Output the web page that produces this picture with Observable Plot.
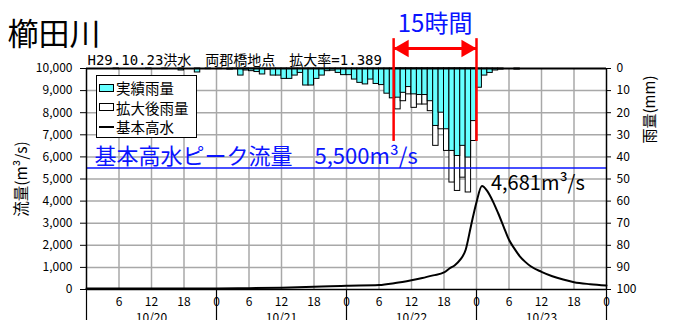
<!DOCTYPE html>
<html><head><meta charset="utf-8">
<script src="https://cdn.jsdelivr.net/npm/d3@7"></script>
<script src="https://cdn.jsdelivr.net/npm/@observablehq/plot@0.6"></script>
<style>
body{margin:0;background:#fff;}
#wrap{position:relative;width:674px;height:320px;overflow:hidden;font-family:"Noto Sans CJK JP","Noto Sans",sans-serif;}
#legend{position:absolute;left:96px;top:75px;width:101px;height:63px;box-sizing:border-box;border:1px solid #000;background:#fff;padding-top:2px;}
.row{display:flex;align-items:center;height:19.5px;padding-left:2px;font-size:14.5px;color:#000;}
.sw{width:15px;height:8px;border:1px solid #000;margin-right:2px;box-sizing:border-box;}
.ln{width:15px;height:2px;background:#000;margin-right:2px;}
</style></head><body><div id="wrap"></div>
<script>
// ---- data ----
const title = "櫛田川";
const subtitle = "H29.10.23洪水　両郡橋地点　拡大率=1.389";
const dayLabels = ["10/20", "10/21", "10/22", "10/23"];
const dayCenters = [12, 36, 60, 84];
const dayBounds = [0, 24, 48, 72, 96];
const hourTicks = [6, 12, 18, 24, 30, 36, 42, 48, 54, 60, 66, 72, 78, 84, 90, 96];
const hourGrid = [6, 12, 18, 24, 30, 36, 42, 48, 54, 60, 66, 72, 78, 84, 90];
const flowTicks = [0, 1000, 2000, 3000, 4000, 5000, 6000, 7000, 8000, 9000, 10000];
const rainTicks = [0, 10, 20, 30, 40, 50, 60, 70, 80, 90, 100];
const legendLabels = ["実績雨量", "拡大後雨量", "基本高水"];

// hourly actual rainfall (mm), 10/20 0:00 .. 10/23 23:00
const rainActual = [
  0, 0, 0, 0, 0, 0.3, 0, 0, 0, 0, 0, 0.3, 0, 0, 0.3, 0, 0, 0.9, 0, 0, 1.8, 0, 0.3, 0,
  0.3, 0, 0.5, 0.3, 3.2, 0.9, 1.2, 1.6, 2.7, 0.5, 3.2, 3.2, 4.7, 4.7, 3.2, 2.0, 7.7, 7.7, 4.7, 3.2, 1.2, 1.0, 2.0, 3.0,
  3.0, 5.0, 6.5, 7.2, 5.0, 7.0, 7.5, 11.4, 13.5, 13.2, 11.0, 8.4, 11.7, 12.0, 12.0, 14.8, 26.0, 20.0, 27.5, 37.3, 39.6, 35.0, 40.3, 23.8,
  8.7, 3.2, 2.0, 0.9, 0.5, 0, 0, 0.5, 0, 0, 0, 0, 0, 0, 0, 0, 0, 0, 0, 0, 0, 0, 0, 0
];
// expanded rainfall in the 15-hour window
const expandedHours = [57, 58, 59, 60, 61, 62, 63, 64, 65, 66, 67, 68, 69, 70, 71];
const rainExpanded = [18.5, 14.8, 11.7, 17.8, 16.3, 16.3, 19.3, 35.0, 27.5, 37.3, 51.6, 55.4, 49.4, 56.1, 32.8];

// design flood hydrograph (m3/s)
const flowHours = [0, 12, 24, 30, 36, 42, 45, 48, 54, 57, 60, 62, 64, 66, 67, 68, 69, 70, 71, 72, 73, 74, 75, 76, 77, 78, 79, 80, 81, 82, 84, 86, 88, 90, 93, 96];
const flowValues = [50, 50, 50, 60, 80, 120, 150, 170, 200, 290, 420, 520, 640, 770, 950, 1100, 1350, 1800, 2900, 3950, 4681, 4450, 4000, 3450, 2850, 2250, 1850, 1500, 1250, 1050, 800, 600, 450, 330, 240, 180];

const designPeak = 5500;
const peakHour = 73, peakFlow = 4681;
const windowStart = 56.7, windowEnd = 72;
const windowLabel = "15時間";
const redLineBottom = 6700, redLineTop = 11350, arrowLevel = 10900, windowLabelLevel = 11630;

// ---- build ----
const RAIN_BASE = 10000, RAIN_UNIT = 100; // right axis: 0 mm at top, 100 mm at bottom
const toY = mm => RAIN_BASE - mm * RAIN_UNIT;

const actual = rainActual.map((mm, h) => ({h, mm})).filter(d => d.mm > 0);
const expanded = expandedHours.map((h, i) => ({h, mm: rainExpanded[i]}));
const flow = flowHours.map((h, i) => ({h, v: flowValues[i]}));

const blue = "#0a14ff", red = "#ff0000", cyan = "#66ffff", grid = "#a8a8a8";
const jp = '"Noto Sans CJK JP", sans-serif';

const plot = Plot.plot({
  width: 674, height: 320,
  marginTop: 68, marginRight: 68, marginBottom: 31, marginLeft: 86,
  x: {domain: [0, 96]},
  y: {domain: [0, 10000]},
  style: {fontFamily: jp, fontSize: "12px", color: "#000", background: "#fff", overflow: "visible"},
  marks: [
    Plot.gridY(flowTicks.slice(1, -1), {stroke: grid, strokeOpacity: 1, strokeWidth: 1.5}),
    Plot.gridX(hourGrid, {stroke: grid, strokeOpacity: 1, strokeWidth: 1.5}),
    Plot.rect(expanded, {x1: d => d.h, x2: d => d.h + 1, y1: RAIN_BASE, y2: d => toY(d.mm), fill: "#fff", stroke: "#000", strokeWidth: 1}),
    Plot.rect(actual, {x1: d => d.h, x2: d => d.h + 1, y1: RAIN_BASE, y2: d => toY(d.mm), fill: cyan, stroke: "#000", strokeWidth: 1}),
    Plot.ruleY([designPeak], {stroke: blue, strokeWidth: 1.6}),
    Plot.line(flow, {x: "h", y: "v", stroke: "#000", strokeWidth: 2, curve: "monotone-x"}),
    Plot.ruleY([0], {stroke: "#000", strokeWidth: 1.5}),
    Plot.ruleY([10000], {stroke: "#000", strokeWidth: 2}),
    Plot.ruleX([0, 96], {stroke: "#000", strokeWidth: 1.5}),
    // axes
    Plot.axisY(flowTicks, {anchor: "left", tickFormat: d3.format(","), tickSize: 6, tickPadding: 8, fontSize: 12, label: null}),
    Plot.axisY(rainTicks.map(toY), {anchor: "right", tickFormat: d => String(Math.round((RAIN_BASE - d) / RAIN_UNIT)), tickSize: 4, tickPadding: 6, fontSize: 12, label: null}),
    Plot.axisX(hourTicks, {tickFormat: d => String(d % 24), tickSize: 0, tickPadding: 8, fontSize: 12, label: null}),
    Plot.axisX(dayBounds, {tickFormat: () => "", tickSize: 31, strokeWidth: 1.2, label: null}),
    Plot.axisX(dayCenters, {tickFormat: d => dayLabels[dayCenters.indexOf(d)], tickSize: 0, tickPadding: 24, fontSize: 12, label: null}),
    // axis titles
    Plot.text(["流量(m³/s)"], {text: d => d, frameAnchor: "left", dx: -64, dy: 0, rotate: -90, fontSize: 15.5, textAnchor: "middle", lineAnchor: "middle"}),
    Plot.text(["雨量(mm)"], {text: d => d, frameAnchor: "top-right", dx: 44, dy: 41, rotate: -90, fontSize: 15, textAnchor: "middle", lineAnchor: "middle"}),
    // title and subtitle
    Plot.text([title], {text: d => d, frameAnchor: "top-left", dx: -79, dy: -24, textAnchor: "start", lineAnchor: "bottom", fontSize: 31}),
    Plot.text([subtitle], {text: d => d, frameAnchor: "top-left", dx: 1, dy: -4, textAnchor: "start", lineAnchor: "bottom", fontSize: 14, fontFamily: '"DejaVu Sans Mono", "Noto Sans CJK JP", monospace'}),
    // annotations
    Plot.text([designPeak], {y: d => d, text: d => `基本高水ピーク流量　${d3.format(",")(d)}m³/s`, frameAnchor: "left", dx: 8, dy: -4, textAnchor: "start", lineAnchor: "bottom", fontSize: 22, fill: blue}),
    Plot.text([{h: peakHour, v: peakFlow}], {x: "h", y: "v", text: d => `${d3.format(",")(d.v)}m³/s`, dx: 9, dy: 4, textAnchor: "start", lineAnchor: "bottom", fontSize: 20, fill: "#000"}),
    Plot.ruleX([windowStart, windowEnd], {y1: redLineBottom, y2: redLineTop, stroke: red, strokeWidth: 2.5}),
    Plot.ruleY([arrowLevel], {x1: windowStart, x2: windowEnd, stroke: red, strokeWidth: 3}),
    Plot.dot([windowStart], {x: d => d, y: arrowLevel, symbol: "triangle", r: 6.5, rotate: -90, dx: 10, fill: red, stroke: null}),
    Plot.dot([windowEnd], {x: d => d, y: arrowLevel, symbol: "triangle", r: 6.5, rotate: 90, dx: -10, fill: red, stroke: null}),
    Plot.text([windowLabel], {x: (windowStart + windowEnd) / 2, y: windowLabelLevel, text: d => d, lineAnchor: "bottom", fontSize: 24, fill: blue})
  ]
});

const wrap = document.getElementById("wrap");
wrap.appendChild(plot);

// legend
const legend = d3.select(wrap).append("div").attr("id", "legend");
legendLabels.forEach((label, i) => {
  const row = legend.append("div").attr("class", "row");
  if (i < 2) row.append("div").attr("class", "sw").style("background", i === 0 ? cyan : "#fff");
  else row.append("div").attr("class", "ln");
  row.append("span").text(label);
});
</script></body></html>
